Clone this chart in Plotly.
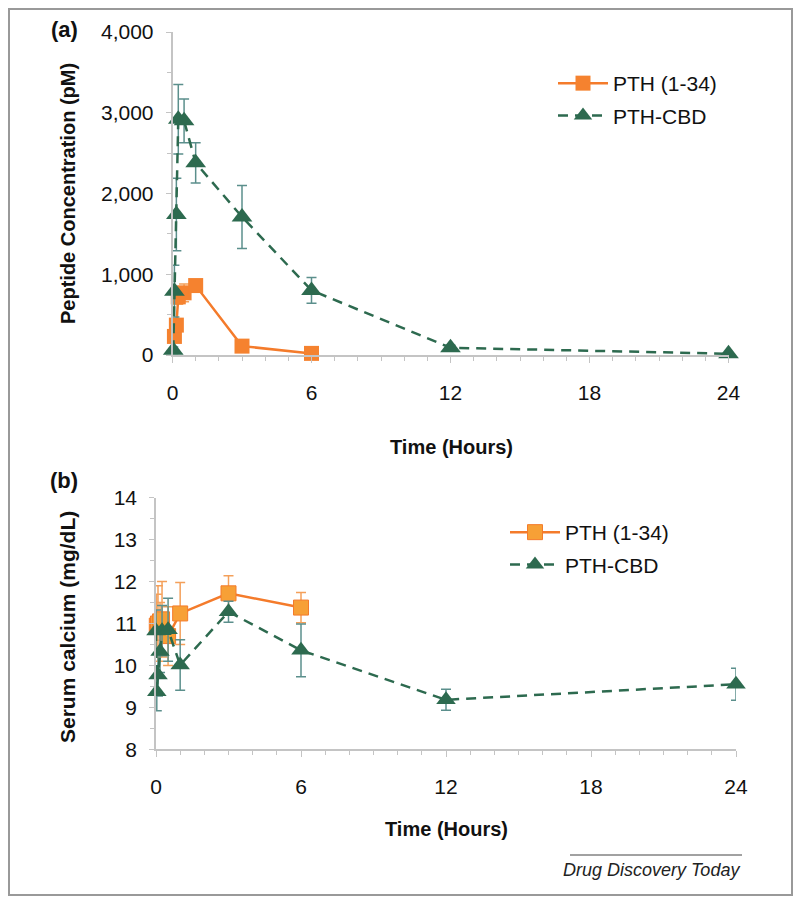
import plotly.graph_objects as go

W, H = 800, 904

# ---------------- data ----------------
# Panel (a): peptide concentration (pM)
pth_t_a = [0.083, 0.167, 0.25, 0.5, 1, 3, 6]
pth_a = [230, 370, 720, 770, 860, 110, 20]
pth_a_err = [60, 80, 90, 110, 60, 30, 10]

cbd_t_a = [0.033, 0.083, 0.167, 0.25, 0.5, 1, 3, 6, 12, 24]
cbd_a = [60, 790, 1740, 2920, 2900, 2380, 1710, 800, 90, 15]
cbd_a_err = [40, 320, 450, 430, 270, 250, 390, 160, 30, 10]

# Panel (b): serum calcium (mg/dL)
pth_t_b = [0.033, 0.083, 0.167, 0.25, 0.5, 1, 3, 6]
pth_b = [10.95, 11.0, 11.05, 11.1, 10.7, 11.24, 11.72, 11.38]
pth_b_err = [0.75, 0.9, 0.45, 0.9, 0.7, 0.74, 0.42, 0.36]

cbd_t_b = [0, 0.033, 0.083, 0.167, 0.25, 0.5, 1, 3, 6, 12, 24]
cbd_b = [10.82, 9.37, 9.77, 10.33, 10.83, 10.85, 10.01, 11.28, 10.36, 9.18, 9.55]
cbd_b_err = [0.5, 0.45, 0.5, 0.5, 0.6, 0.75, 0.6, 0.25, 0.63, 0.25, 0.38]

x_ticks = [0, 6, 12, 18, 24]
series_names = ["PTH (1-34)", "PTH-CBD"]

# ---------------- style ----------------
ORANGE_LINE = "#f47b2b"
ORANGE_A = "#f5822f"
ORANGE_B = "#f7a036"
ORANGE_ERR = "#f4a05a"
GREEN = "#2d6a4f"
GREEN_ERR = "#5b8f8c"
AXIS = "#c4c4c4"
FONT = "Liberation Sans, Arial, Helvetica, sans-serif"


def px(x):
    return x / W


def py(y):
    return 1 - y / H


fig = go.Figure()

# Panel (a)
fig.add_trace(go.Scatter(
    x=pth_t_a, y=pth_a, name=series_names[0], mode="lines+markers",
    line=dict(color=ORANGE_LINE, width=2.5),
    marker=dict(symbol="square", size=15, color=ORANGE_A),
    error_y=dict(type="data", array=pth_a_err, color=ORANGE_ERR, thickness=1.5, width=5),
    xaxis="x", yaxis="y", legend="legend", legendgroup="a1", cliponaxis=False))
fig.add_trace(go.Scatter(
    x=cbd_t_a, y=cbd_a, name=series_names[1], mode="lines+markers",
    line=dict(color=GREEN, width=2.5, dash="10px,7px"),
    marker=dict(symbol="triangle-up", size=18, color=GREEN),
    error_y=dict(type="data", array=cbd_a_err, color=GREEN_ERR, thickness=1.5, width=5),
    xaxis="x", yaxis="y", legend="legend", legendgroup="a2", cliponaxis=False))

# Panel (b)
fig.add_trace(go.Scatter(
    x=pth_t_b, y=pth_b, name=series_names[0], mode="lines+markers",
    line=dict(color=ORANGE_LINE, width=2.5),
    marker=dict(symbol="square", size=15, color=ORANGE_B, line=dict(color=ORANGE_LINE, width=1)),
    error_y=dict(type="data", array=pth_b_err, color=ORANGE_ERR, thickness=1.5, width=5),
    xaxis="x2", yaxis="y2", legend="legend2", legendgroup="b1", cliponaxis=False))
fig.add_trace(go.Scatter(
    x=cbd_t_b, y=cbd_b, name=series_names[1], mode="lines+markers",
    line=dict(color=GREEN, width=2.5, dash="10px,7px"),
    marker=dict(symbol="triangle-up", size=17, color=GREEN),
    error_y=dict(type="data", array=cbd_b_err, color=GREEN_ERR, thickness=1.5, width=5),
    xaxis="x2", yaxis="y2", legend="legend2", legendgroup="b2", cliponaxis=False))

common_x = dict(
    tickvals=x_ticks, ticks="outside", ticklen=6, tickcolor=AXIS, tickwidth=1,
    showline=True, linecolor=AXIS, linewidth=1.5, showgrid=False, zeroline=False,
    tickfont=dict(family=FONT, size=21, color="#111"), ticklabelstandoff=12,
    minor=dict(dtick=1, ticks="outside", ticklen=4, tickcolor=AXIS, showgrid=False),
    range=[0, 24],
)
common_y = dict(
    ticks="outside", ticklen=5, tickcolor=AXIS, tickwidth=1,
    showline=True, linecolor=AXIS, linewidth=1.5, showgrid=False, zeroline=False,
    tickfont=dict(family=FONT, size=21, color="#111"), ticklabelstandoff=8,
)

leg_common = dict(xanchor="left", yanchor="top",
                  font=dict(family=FONT, size=21, color="#111"),
                  bgcolor="rgba(0,0,0,0)", traceorder="grouped", tracegroupgap=2,
                  itemwidth=50)

fig.update_layout(
    width=W, height=H,
    margin=dict(l=0, r=0, t=0, b=0, autoexpand=False),
    paper_bgcolor="white", plot_bgcolor="white",
    showlegend=True,
    xaxis=dict(domain=[px(172.5), px(728.5)], anchor="y", **common_x),
    yaxis=dict(domain=[py(355), py(32)], anchor="x", range=[0, 4000],
               tickvals=[0, 1000, 2000, 3000, 4000],
               ticktext=["0", "1,000", "2,000", "3,000", "4,000"],
               minor=dict(dtick=500, ticks="outside", ticklen=4, tickcolor=AXIS, showgrid=False),
               **common_y),
    xaxis2=dict(domain=[px(156), px(736)], anchor="y2", **common_x),
    yaxis2=dict(domain=[py(749.3), py(497.7)], anchor="x2", range=[8, 14],
                tickvals=[8, 9, 10, 11, 12, 13, 14],
                minor=dict(dtick=0.5, ticks="outside", ticklen=4, tickcolor=AXIS, showgrid=False),
                **common_y),
    legend=dict(x=px(553), y=py(63), **leg_common),
    legend2=dict(x=px(505), y=py(512), **leg_common),
)

annots = [
    dict(text="<b>(a)</b>", x=px(64), y=py(30), size=22, angle=0),
    dict(text="<b>(b)</b>", x=px(64), y=py(481), size=22, angle=0),
    dict(text="<b>Peptide Concentration (pM)</b>", x=px(68), y=py(194), size=20, angle=-90),
    dict(text="<b>Serum calcium (mg/dL)</b>", x=px(67), y=py(627), size=21, angle=-90),
    dict(text="<b>Time (Hours)</b>", x=px(452), y=py(447), size=20, angle=0),
    dict(text="<b>Time (Hours)</b>", x=px(446), y=py(829), size=20, angle=0),
]
for a in annots:
    fig.add_annotation(text=a["text"], x=a["x"], y=a["y"], xref="paper", yref="paper",
                       showarrow=False, textangle=a["angle"], xanchor="center", yanchor="middle",
                       font=dict(family=FONT, size=a["size"], color="#111"))

fig.add_annotation(text="<i>Drug Discovery Today</i>", x=px(742), y=py(870), xref="paper", yref="paper",
                   showarrow=False, xanchor="right", yanchor="middle",
                   font=dict(family=FONT, size=18, color="#222"))

fig.add_shape(type="line", xref="paper", yref="paper", x0=px(570), x1=px(742), y0=py(855), y1=py(855),
              line=dict(color="#444", width=1))
fig.add_shape(type="rect", xref="paper", yref="paper", x0=px(9), x1=px(792), y0=py(9), y1=py(895),
              line=dict(color="#999", width=2), fillcolor="rgba(0,0,0,0)", layer="below")

fig.write_html("out.html", config={"displayModeBar": False},
               post_script="document.body.style.margin='0';document.body.style.overflow='hidden';")
